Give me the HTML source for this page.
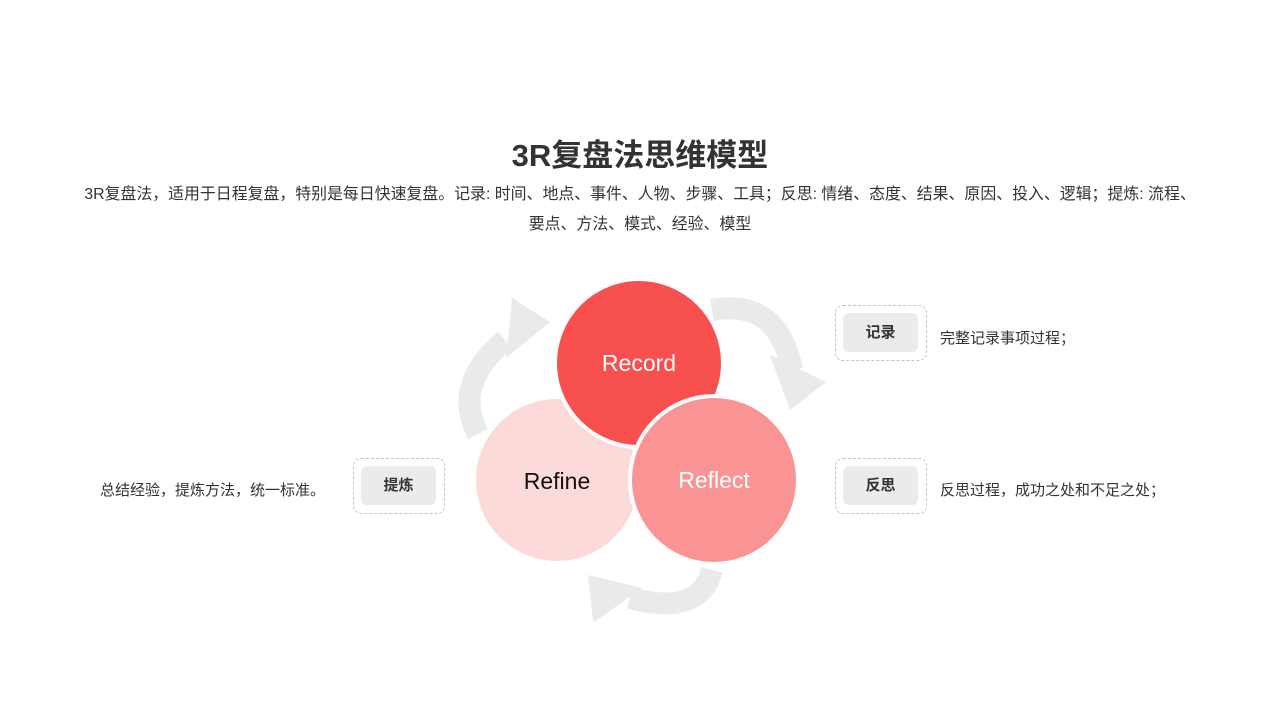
<!DOCTYPE html>
<html><head><meta charset="utf-8"><style>
body{margin:0;width:1280px;height:720px;background:#fff;font-family:"Liberation Sans","Noto Sans CJK SC",sans-serif;position:relative;overflow:hidden}
.t{position:absolute;left:0;width:1280px;text-align:center;top:130px;font-size:31px;font-weight:bold;color:#333}
.d{position:absolute;left:40px;width:1200px;text-align:center;top:180px;font-size:15.9px;line-height:30px;color:#333;white-space:nowrap}
.box{position:absolute;width:92px;height:56px;border:1.5px dashed #c4c4c4;border-radius:8px;box-sizing:border-box}
.box div{position:absolute;left:7px;top:7px;width:75px;height:39px;background:#ebebec;border-radius:6px;text-align:center;line-height:39px;font-weight:bold;font-size:15px;color:#333}
.tx{position:absolute;font-size:15px;color:#333}
</style></head><body>
<div class="t">3R复盘法思维模型</div>
<div class="d">3R复盘法，适用于日程复盘，特别是每日快速复盘。记录: 时间、地点、事件、人物、步骤、工具；反思: 情绪、态度、结果、原因、投入、逻辑；提炼: 流程、<br>要点、方法、模式、经验、模型</div>
<svg width="1280" height="720" style="position:absolute;left:0;top:0">
<g fill="none" stroke="#e9eaec" stroke-width="22">
<path d="M478 434 Q452 385 505 340"/>
<path d="M712 310 Q778 298 792 370"/>
<path d="M712 570 Q700 617 630 598"/>
</g>
<g fill="#e9eaec">
<polygon points="512,298 550,322 506,358"/>
<polygon points="770,355 826,382 790,410"/>
<polygon points="588,575 642,588 593,623"/>
</g>
<circle cx="557" cy="480" r="83" fill="#fcdada" stroke="#fff" stroke-width="4"/>
<circle cx="639" cy="363" r="84" fill="#f84f4f" stroke="#fff" stroke-width="4"/>
<circle cx="714" cy="480" r="84" fill="#fa9494" stroke="#fff" stroke-width="4"/>
<g font-family="Liberation Sans,sans-serif" font-size="23" text-anchor="middle">
<text x="639" y="371" fill="#fff">Record</text>
<text x="714" y="488" fill="#fff">Reflect</text>
<text x="557" y="489" fill="#111">Refine</text>
</g>
</svg>
<div class="box" style="left:835px;top:305px"><div>记录</div></div>
<div class="box" style="left:835px;top:458px"><div>反思</div></div>
<div class="box" style="left:353px;top:458px"><div>提炼</div></div>
<div class="tx" style="left:940px;top:327px">完整记录事项过程；</div>
<div class="tx" style="left:940px;top:479px">反思过程，成功之处和不足之处；</div>
<div class="tx" style="left:100px;top:479px">总结经验，提炼方法，统一标准。</div>
</body></html>
